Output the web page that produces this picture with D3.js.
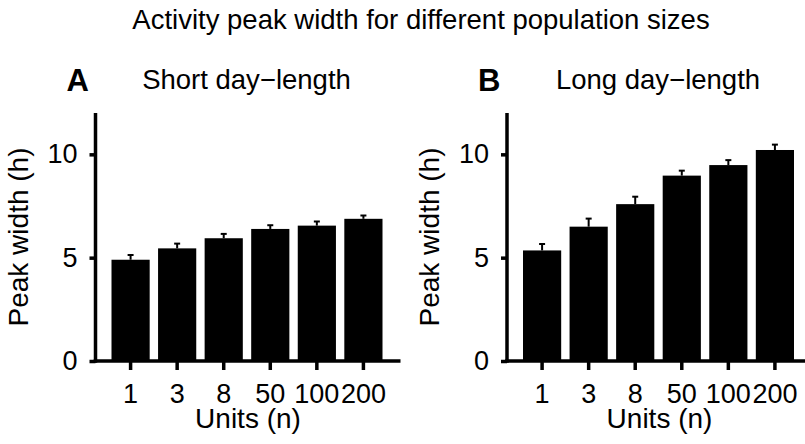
<!DOCTYPE html>
<html>
<head>
<meta charset="utf-8">
<script src="https://cdn.jsdelivr.net/npm/d3@7"></script>
<style>
  body { margin: 0; background: #fff; }
  text { font-family: "Liberation Sans", Arial, sans-serif; fill: #000; }
</style>
</head>
<body>
<div id="chart"></div>
<script>
// data
const units = ["1", "3", "8", "50", "100", "200"];
const shortMean = [4.90, 5.45, 5.94, 6.39, 6.55, 6.88];
const shortErr = [0.23, 0.23, 0.21, 0.18, 0.20, 0.16];
const longMean = [5.35, 6.50, 7.59, 8.97, 9.48, 10.21];
const longErr = [0.31, 0.39, 0.36, 0.24, 0.24, 0.26];
const yTicks = [0, 5, 10];

const svgWidth = 805, svgHeight = 444;

const svg = d3.select("#chart").append("svg")
  .attr("width", svgWidth)
  .attr("height", svgHeight);

svg.append("text")
  .attr("x", 421)
  .attr("y", 29)
  .attr("text-anchor", "middle")
  .style("font-size", "27.5px")
  .text("Activity peak width for different population sizes");

const plotW = 305, plotH = 248;

function panel(left, letter, title, means, errs) {
  const g = svg.append("g").attr("transform", `translate(${left}, 113)`);

  const x = d3.scaleBand()
    .domain(units)
    .range([16, 287])
    .paddingInner(0.18)
    .paddingOuter(0);

  const y = d3.scaleLinear()
    .domain([0, 12])
    .range([plotH, 0]);

  const rows = units.map((u, i) => ({ u: u, m: means[i], e: errs[i] }));

  // bars
  g.selectAll("rect.bar")
    .data(rows)
    .enter()
    .append("rect")
    .attr("class", "bar")
    .attr("x", d => x(d.u))
    .attr("width", x.bandwidth())
    .attr("y", d => y(d.m))
    .attr("height", d => y(0) - y(d.m))
    .attr("fill", "#000");

  // error bars
  g.selectAll("line.err")
    .data(rows)
    .enter()
    .append("line")
    .attr("x1", d => x(d.u) + x.bandwidth() / 2)
    .attr("x2", d => x(d.u) + x.bandwidth() / 2)
    .attr("y1", d => y(d.m))
    .attr("y2", d => y(d.m + d.e))
    .attr("stroke", "#000")
    .attr("stroke-width", 2);

  g.selectAll("line.cap")
    .data(rows)
    .enter()
    .append("line")
    .attr("x1", d => x(d.u) + x.bandwidth() / 2 - 3)
    .attr("x2", d => x(d.u) + x.bandwidth() / 2 + 3)
    .attr("y1", d => y(d.m + d.e))
    .attr("y2", d => y(d.m + d.e))
    .attr("stroke", "#000")
    .attr("stroke-width", 2);

  // y axis
  const yAxis = g.append("g")
    .call(d3.axisLeft(y).tickValues(yTicks).tickSize(6).tickPadding(12));
  yAxis.select(".domain").remove();
  yAxis.selectAll(".tick line").attr("stroke-width", 3.5);
  yAxis.selectAll(".tick text")
    .style("font-size", "27px")
    .attr("font-family", null);
  g.append("line")
    .attr("x1", 0).attr("x2", 0)
    .attr("y1", 0).attr("y2", plotH + 1.75)
    .attr("stroke", "#000")
    .attr("stroke-width", 3.5);

  // x axis
  const xAxis = g.append("g")
    .attr("transform", `translate(0, ${plotH})`)
    .call(d3.axisBottom(x).tickSize(9).tickPadding(14));
  xAxis.select(".domain").remove();
  xAxis.selectAll(".tick line").attr("stroke-width", 3.5);
  xAxis.selectAll(".tick text")
    .style("font-size", "27px")
    .attr("font-family", null);
  g.append("line")
    .attr("x1", -1.75).attr("x2", plotW)
    .attr("y1", plotH).attr("y2", plotH)
    .attr("stroke", "#000")
    .attr("stroke-width", 3.5);

  // axis titles
  g.append("text")
    .attr("x", plotW / 2)
    .attr("y", plotH + 67)
    .attr("text-anchor", "middle")
    .style("font-size", "28px")
    .text("Units (n)");

  g.append("text")
    .attr("transform", `translate(-68, ${plotH / 2}) rotate(-90)`)
    .attr("text-anchor", "middle")
    .style("font-size", "28px")
    .text("Peak width (h)");

  // panel headings
  g.append("text")
    .attr("x", -29)
    .attr("y", -22)
    .style("font-size", "31px")
    .style("font-weight", "bold")
    .text(letter);

  g.append("text")
    .attr("x", 151)
    .attr("y", -24)
    .attr("text-anchor", "middle")
    .style("font-size", "27.5px")
    .text(title);
}

panel(95.5, "A", "Short day\u2212length", shortMean, shortErr);
panel(507, "B", "Long day\u2212length", longMean, longErr);
</script>
</body>
</html>
